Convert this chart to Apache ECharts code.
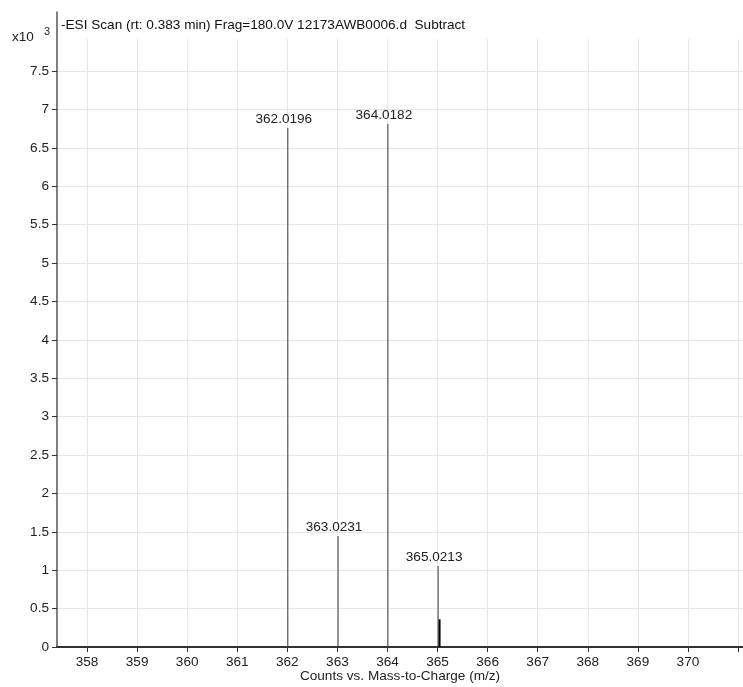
<!DOCTYPE html>
<html>
<head>
<meta charset="utf-8">
<script src="https://cdn.jsdelivr.net/npm/echarts@6/dist/echarts.min.js"></script>
<style>
html,body{margin:0;padding:0;background:#fff;}
#chart{width:743px;height:687px;}
</style>
</head>
<body>
<div id="chart"></div>
<script>
// m/z values and intensities (x10^3 counts)
const labeledMz = [362.0196, 363.0231, 364.0182, 365.0213];
const labeledInt = [6.76, 1.445, 6.81, 1.055];
const minorMz = [365.04];
const minorInt = [0.36];
const xTicks = [358, 359, 360, 361, 362, 363, 364, 365, 366, 367, 368, 369, 370, 371];
const xLabels = [358, 359, 360, 361, 362, 363, 364, 365, 366, 367, 368, 369, 370];
const yTicks = [0, 0.5, 1, 1.5, 2, 2.5, 3, 3.5, 4, 4.5, 5, 5.5, 6, 6.5, 7, 7.5];
const titleText = '-ESI Scan (rt: 0.383 min) Frag=180.0V 12173AWB0006.d  Subtract';
const xName = 'Counts vs. Mass-to-Charge (m/z)';

const FONT = '"Liberation Sans", Arial, sans-serif';
const FS = 13.6;
const chart = echarts.init(document.getElementById('chart'));
chart.setOption({
  backgroundColor: '#fff',
  animation: false,
  grid: {left: 57, right: 0, top: 12, bottom: 40, containLabel: false, outerBoundsMode: 'none'},
  xAxis: {
    type: 'value', min: 357.4, max: 371.1,
    name: xName, nameLocation: 'middle', nameGap: 29, nameMoveOverlap: false,
    nameTextStyle: {color: '#222', fontSize: FS, fontFamily: FONT, verticalAlign: 'middle', padding: 0},
    axisLine: {show: true, onZero: false, lineStyle: {color: '#333', width: 2}},
    axisTick: {show: true, length: 5, customValues: xTicks, lineStyle: {color: '#333'}},
    axisLabel: {customValues: xLabels, color: '#222', fontSize: FS, fontFamily: FONT, margin: 8},
    splitLine: {show: true, lineStyle: {color: '#e6e6e6', width: 1}}
  },
  yAxis: {
    type: 'value', min: 0, max: 8.27,
    axisLine: {show: true, lineStyle: {color: '#555', width: 1.5}},
    axisTick: {show: true, length: 5, customValues: yTicks, lineStyle: {color: '#333'}},
    axisLabel: {customValues: yTicks, color: '#222', fontSize: FS, fontFamily: FONT, margin: 8},
    splitLine: {show: true, lineStyle: {color: '#e6e6e6', width: 1}}
  },
  graphic: [
    {type: 'rect', z: 50, shape: {x: 58, y: 12, width: 685, height: 27}, style: {fill: '#fff'}},
    {type: 'text', z: 51, left: 61, top: 18, style: {text: titleText, fill: '#111', fontSize: FS, fontFamily: FONT}},
    {type: 'text', z: 51, left: 12, top: 30, style: {text: 'x10', fill: '#222', fontSize: FS, fontFamily: FONT}},
    {type: 'text', z: 51, left: 44, top: 26, style: {text: '3', fill: '#222', fontSize: 11, fontFamily: FONT}}
  ],
  series: [
    {
      type: 'bar', barWidth: 1, barGap: '-100%',
      data: labeledMz.map((m, i) => [m, labeledInt[i]]),
      itemStyle: {color: '#3a3a3a'},
      label: {show: true, position: 'top', distance: 2, offset: [-4, 0],
        formatter: p => p.value[0].toFixed(4), color: '#222', fontSize: FS, fontFamily: FONT}
    },
    {
      type: 'bar', barWidth: 2, barGap: '-100%',
      data: minorMz.map((m, i) => [m, minorInt[i]]),
      itemStyle: {color: '#000'}
    }
  ]
});
</script>
</body>
</html>
